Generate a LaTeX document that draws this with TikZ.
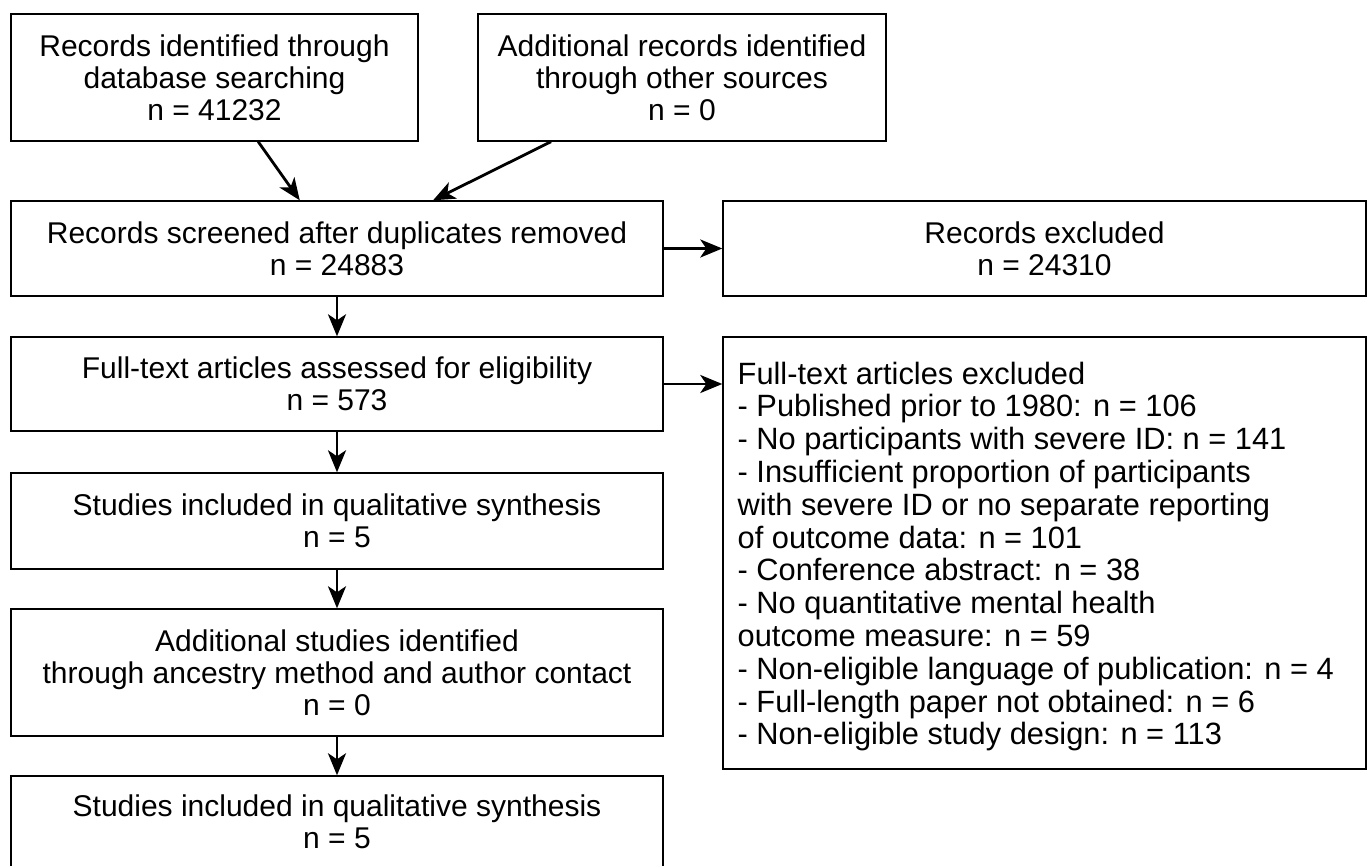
\documentclass[tikz,border=0pt]{standalone}
\usepackage{fontspec}
\setmainfont{Liberation Sans}
\usetikzlibrary{arrows.meta,calc}
\begin{document}
\begin{tikzpicture}[x=0.5pt,y=-0.5pt,
  box/.style={draw,line width=0.7pt,rectangle,inner sep=0pt,align=center,
    font=\fontsize{15}{16}\selectfont},
  arr/.style={line width=1.4pt,-{Stealth[length=11pt,width=9pt,inset=3pt]}}]
\useasboundingbox (0,0) rectangle (1367,866);
\node[box,minimum width=407*0.5pt,minimum height=127*0.5pt] (A) at (214.5,77.5)
  {Records identified through\\database searching\\n = 41232};
\node[box,minimum width=408*0.5pt,minimum height=127*0.5pt] (B) at (682,77.5)
  {Additional records identified\\through other sources\\n = 0};
\node[box,minimum width=652*0.5pt,minimum height=95*0.5pt] (C) at (337,248.5)
  {Records screened after duplicates removed\\n = 24883};
\node[box,minimum width=643*0.5pt,minimum height=95*0.5pt] (D) at (1044.5,248.5)
  {Records excluded\\n = 24310};
\node[box,minimum width=652*0.5pt,minimum height=94*0.5pt] (E) at (337,384)
  {Full-text articles assessed for eligibility\\n = 573};
\node[box,minimum width=643*0.5pt,minimum height=432*0.5pt] (F) at (1044.5,553) {};
\node[box,draw=none,anchor=north west,align=left,font=\fontsize{15.4}{16.4}\selectfont] (Ft) at (737,361)
  {Full-text articles excluded\\
  - Published prior to 1980: n = 106\\
  - No participants with severe ID: n = 141\\
  - Insufficient proportion of participants\\
  with severe ID or no separate reporting\\
  of outcome data: n = 101\\
  - Conference abstract: n = 38\\
  - No quantitative mental health\\
  outcome measure: n = 59\\
  - Non-eligible language of publication: n = 4\\
  - Full-length paper not obtained: n = 6\\
  - Non-eligible study design: n = 113};
\node[box,minimum width=652*0.5pt,minimum height=96*0.5pt] (G) at (337,521)
  {Studies included in qualitative synthesis\\n = 5};
\node[box,minimum width=652*0.5pt,minimum height=127*0.5pt] (H) at (337,672.5)
  {Additional studies identified\\through ancestry method and author contact\\n = 0};
\node[box,minimum width=652*0.5pt,minimum height=124*0.5pt] (I) at (337,838) {};
\node[box,draw=none] (It) at (337,822)
  {Studies included in qualitative synthesis\\n = 5};
\draw[arr] ($(A.south west)!0.607!(A.south east)$) -- ($(C.north west)!0.443!(C.north east)$);
\draw[arr] ($(B.south west)!0.18!(B.south east)$) -- ($(C.north west)!0.647!(C.north east)$);
\draw[arr] (C.east) -- (D.west);
\draw[arr] (E.east) -- (E.east -| F.west);
\draw[arr] (C.south) -- (E.north);
\draw[arr] (E.south) -- (G.north);
\draw[arr] (G.south) -- (H.north);
\draw[arr] (H.south) -- (I.north);
\end{tikzpicture}
\end{document}
